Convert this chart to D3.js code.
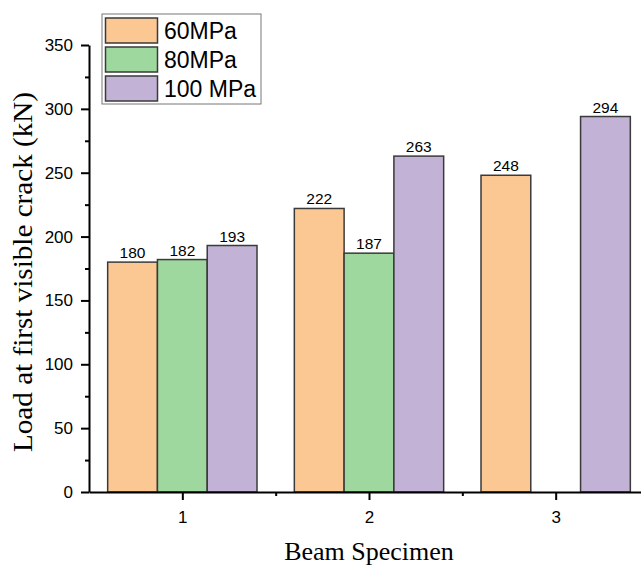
<!DOCTYPE html>
<html>
<head>
<meta charset="utf-8">
<script src="https://cdn.jsdelivr.net/npm/d3@7"></script>
<style>
  body { margin: 0; background: #fff; }
  svg { display: block; }
</style>
</head>
<body>
<div id="chart"></div>
<script>
  // data
  const specimens = [1, 2, 3];
  const seriesNames = ["60MPa", "80MPa", "100 MPa"];
  const load60 = [180, 222, 248];
  const load80 = [182, 187, null];   // no 80MPa beam for specimen 3
  const load100 = [193, 263, 294];
  const yTicks = [0, 50, 100, 150, 200, 250, 300, 350];
  const colors = ["#fbc894", "#9fd89e", "#c2b2d6"];

  const series = [load60, load80, load100];

  const width = 641, height = 565;
  const svg = d3.select("#chart").append("svg")
    .attr("width", width)
    .attr("height", height);

  const x = d3.scaleLinear().domain([0.5, 3.5]).range([89, 649]);
  const y = d3.scaleLinear().domain([0, 350]).range([492, 45]);

  const groupW = 0.8;
  const barW = groupW / seriesNames.length;

  // bars
  series.forEach((vals, si) => {
    const rows = specimens.map((s, i) => ({s: s, v: vals[i]})).filter(d => d.v != null);
    const g = svg.append("g");
    g.selectAll("rect")
      .data(rows)
      .join("rect")
      .attr("x", d => x(d.s - groupW / 2 + si * barW))
      .attr("y", d => y(d.v))
      .attr("width", d => x(d.s - groupW / 2 + (si + 1) * barW) - x(d.s - groupW / 2 + si * barW))
      .attr("height", d => y(0) - y(d.v))
      .attr("fill", colors[si])
      .attr("stroke", "#3a3a3a")
      .attr("stroke-width", 1.5);

    g.selectAll("text")
      .data(rows)
      .join("text")
      .attr("x", d => x(d.s - groupW / 2 + (si + 0.5) * barW))
      .attr("y", d => y(d.v) - 4)
      .attr("text-anchor", "middle")
      .style("font-family", "Liberation Sans, Arial, sans-serif")
      .style("font-size", "15.5px")
      .text(d => d.v);
  });

  // y axis
  svg.append("g")
    .attr("transform", `translate(${x(0.5)},0)`)
    .call(d3.axisLeft(y).tickValues(yTicks).tickSize(8).tickSizeOuter(0).tickPadding(8));
  svg.append("g")
    .attr("transform", `translate(${x(0.5)},0)`)
    .call(d3.axisLeft(y).tickValues(d3.range(25, 350, 50)).tickSize(4).tickFormat(""))
    .call(g => g.select(".domain").remove());

  // x axis
  svg.append("g")
    .attr("transform", `translate(0,${y(0)})`)
    .call(d3.axisBottom(x).tickValues(specimens).tickFormat(d3.format("d")).tickSize(8).tickSizeOuter(0).tickPadding(11));
  svg.append("g")
    .attr("transform", `translate(0,${y(0)})`)
    .call(d3.axisBottom(x).tickValues([1.5, 2.5]).tickSize(4).tickFormat(""))
    .call(g => g.select(".domain").remove());

  svg.selectAll(".domain").attr("stroke-width", 2).attr("stroke", "#000");
  svg.selectAll(".tick line").attr("stroke-width", 2).attr("stroke", "#000");
  svg.selectAll(".tick text")
    .style("font-family", "Liberation Sans, Arial, sans-serif")
    .style("font-size", "17px")
    .attr("fill", "#000");

  // axis titles
  svg.append("text")
    .attr("x", x(2))
    .attr("y", 560)
    .attr("text-anchor", "middle")
    .style("font-family", "Liberation Serif, Times New Roman, serif")
    .style("font-size", "26px")
    .text("Beam Specimen");

  svg.append("text")
    .attr("transform", `translate(32,272) rotate(-90)`)
    .attr("text-anchor", "middle")
    .attr("textLength", 360)
    .attr("lengthAdjust", "spacingAndGlyphs")
    .style("font-family", "Liberation Serif, Times New Roman, serif")
    .style("font-size", "27px")
    .text("Load at first visible crack (kN)");

  // legend
  const leg = svg.append("g").attr("transform", "translate(102,14)");
  leg.append("rect")
    .attr("width", 159)
    .attr("height", 90)
    .attr("fill", "#fff")
    .attr("stroke", "#777")
    .attr("stroke-width", 1);
  seriesNames.forEach((name, i) => {
    leg.append("rect")
      .attr("x", 3.5)
      .attr("y", 4 + i * 29)
      .attr("width", 52)
      .attr("height", 25)
      .attr("fill", colors[i])
      .attr("stroke", "#3a3a3a")
      .attr("stroke-width", 1.5);
    leg.append("text")
      .attr("x", 62)
      .attr("y", 24.5 + i * 29)
      .style("font-family", "Liberation Sans, Arial, sans-serif")
      .style("font-size", "23px")
      .text(name);
  });
</script>
</body>
</html>
